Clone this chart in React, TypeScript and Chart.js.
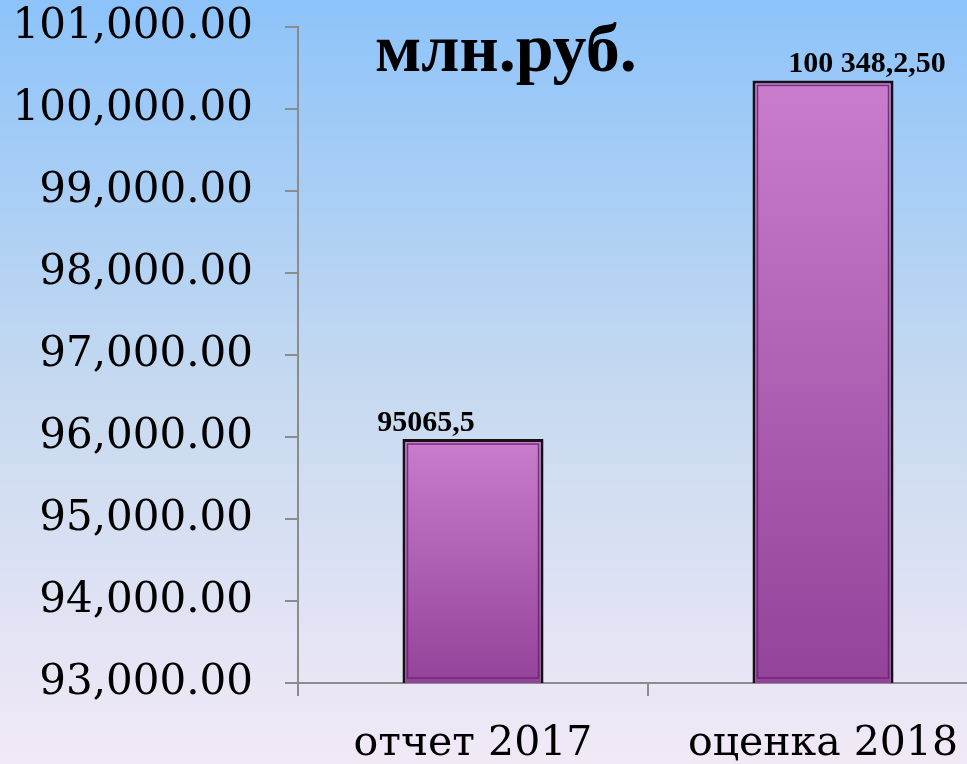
import React, { useEffect, useRef } from "react";
import { Chart, registerables } from "chart.js";
Chart.register(...registerables);

const categories = ["отчет 2017", "оценка 2018"];
const values = [95975, 100348.25];
const valueLabels = ["95065,5", "100 348,2,50"];
const yMin = 93000;
const yMax = 101000;
const yStep = 1000;
const unitTitle = "млн.руб.";

const AXIS = "#8c8c8c";

const bgPlugin = {
  id: "bg",
  beforeDraw(chart: any) {
    const { ctx, width, height } = chart;
    const g = ctx.createLinearGradient(0, 0, 0, height);
    g.addColorStop(0, "#8dc3fa");
    g.addColorStop(0.5, "#c5d9f0");
    g.addColorStop(1, "#f2e9f6");
    ctx.save();
    ctx.fillStyle = g;
    ctx.fillRect(0, 0, width, height);
    ctx.restore();
  },
};

const labelOffsets = [-47, 44];

const decoPlugin = {
  id: "deco",
  afterDatasetsDraw(chart: any) {
    const { ctx, chartArea } = chart;
    const meta = chart.getDatasetMeta(0);
    const bottom = chart.scales.y.getPixelForValue(yMin);
    ctx.save();
    meta.data.forEach((el: any, i: number) => {
      const x = el.x;
      const y = el.y;
      const width = el.width;
      ctx.strokeStyle = "rgba(105,35,110,0.85)";
      ctx.lineWidth = 1.5;
      ctx.strokeRect(x - width / 2 + 5, y + 5, width - 10, bottom - y - 10);
      ctx.fillStyle = "#000";
      ctx.font = "bold 30px 'Liberation Serif'";
      ctx.textAlign = "center";
      ctx.textBaseline = "alphabetic";
      ctx.fillText(valueLabels[i], x + labelOffsets[i], y - 8);
    });
    ctx.font = "bold 68px 'Liberation Serif'";
    ctx.textAlign = "left";
    ctx.textBaseline = "alphabetic";
    ctx.fillStyle = "#000";
    ctx.fillText(unitTitle, chartArea.left + 77, 71);
    ctx.restore();
  },
};

export default function App() {
  const ref = useRef<HTMLCanvasElement>(null);
  useEffect(() => {
    document.body.style.margin = "0";
    const chart = new Chart(ref.current!, {
      type: "bar",
      data: {
        labels: categories,
        datasets: [
          {
            data: values,
            backgroundColor: (c: any) => {
              const ch = c.chart;
              const ya = ch.scales && ch.scales.y;
              if (!ya || c.raw == null) return "#b060b5";
              const top = ya.getPixelForValue(c.raw);
              const bottom = ya.getPixelForValue(ya.min);
              if (!isFinite(top) || !isFinite(bottom) || top === bottom) return "#b060b5";
              const g = ch.ctx.createLinearGradient(0, top, 0, bottom);
              g.addColorStop(0, "#c97dcc");
              g.addColorStop(1, "#93439a");
              return g;
            },
            borderColor: "#161016",
            borderWidth: 3,
            borderSkipped: false,
            barPercentage: 0.403,
            categoryPercentage: 1,
          },
        ],
      },
      options: {
        animation: false,
        responsive: true,
        maintainAspectRatio: false,
        layout: { padding: { top: 27, right: 2, left: 0, bottom: 0 } },
        plugins: {
          legend: { display: false },
          tooltip: { enabled: false },
          title: { display: false },
        },
        scales: {
          x: {
            grid: {
              drawOnChartArea: false,
              drawTicks: true,
              tickLength: 13,
              color: AXIS,
              lineWidth: 2,
              offset: true,
            },
            border: { color: AXIS, width: 2 },
            ticks: {
              font: { family: "DejaVu Serif", size: 41 },
              color: "#000",
              padding: 24,
              maxRotation: 0,
              autoSkip: false,
            },
            afterFit: (s: any) => {
              s.height = 81;
            },
          },
          y: {
            min: yMin,
            max: yMax,
            grid: {
              drawOnChartArea: false,
              drawTicks: true,
              tickLength: 13,
              color: AXIS,
              lineWidth: 2,
            },
            border: { color: AXIS, width: 2 },
            ticks: {
              stepSize: yStep,
              font: { family: "DejaVu Serif", size: 42 },
              color: "#000",
              padding: 32,
              callback: (v: any) =>
                Number(v).toLocaleString("en-US", {
                  minimumFractionDigits: 2,
                  maximumFractionDigits: 2,
                }),
            },
            afterFit: (s: any) => {
              s.width = 298;
              s.paddingTop = 0;
              s.paddingBottom = 0;
            },
          },
        },
      },
      plugins: [bgPlugin, decoPlugin],
    });
    return () => chart.destroy();
  }, []);
  return (
    <div
      style={{
        position: "fixed",
        left: 0,
        top: 0,
        width: 967,
        height: 764,
        overflow: "hidden",
      }}
    >
      <div style={{ position: "relative", width: 1000, height: 764 }}>
        <canvas ref={ref} />
      </div>
    </div>
  );
}
